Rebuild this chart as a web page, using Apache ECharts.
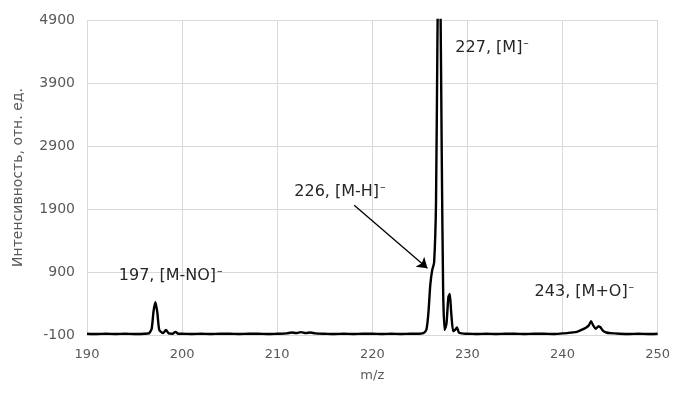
<!DOCTYPE html>
<html>
<head>
<meta charset="utf-8">
<script src="https://cdn.jsdelivr.net/npm/echarts@6/dist/echarts.min.js"></script>
<style>
  html, body { margin: 0; padding: 0; background: #fff; }
  #chart { width: 673px; height: 394px; }
</style>
</head>
<body>
<div id="chart"></div>
<script>
// m/z и интенсивность
const mz = [
  190, 191, 192, 193, 194, 195, 196, 196.5, 196.8, 197.0, 197.2, 197.4, 197.6, 198.0, 198.3, 198.6, 199.0, 199.3, 199.6,
  200, 201, 202, 203, 204, 205, 206, 207, 208, 209, 210, 211, 211.5, 212, 212.5, 213, 213.5, 214, 215, 216, 217, 218, 219,
  220, 221, 222, 223, 224, 225, 225.4, 225.7, 225.9, 226.1, 226.3, 226.5, 226.7, 226.85, 227.0, 227.15, 227.3, 227.45,
  227.6, 227.8, 228.0, 228.15, 228.3, 228.5, 228.7, 228.9, 229.1, 229.4, 229.8,
  230, 231, 232, 233, 234, 235, 236, 237, 238, 239, 240, 240.5, 241, 241.5, 242, 242.5, 242.8, 243.0, 243.2, 243.5,
  243.8, 244.0, 244.3, 244.6, 245, 246, 247, 248, 249, 250
];
const intensity = [
  -80, -85, -80, -85, -80, -85, -80, -75, 0, 280, 420, 250, -20, -70, -20, -75, -80, -50, -80,
  -80, -85, -80, -85, -80, -80, -85, -80, -80, -85, -80, -75, -60, -70, -55, -70, -60, -75, -80, -85, -80, -85, -80,
  -80, -85, -80, -85, -80, -80, -70, -10, 250, 700, 930, 1050, 2000, 4600, 6500, 5500, 2800, 600,
  -20, 80, 500, 550, 250, -40, -20, 20, -60, -75, -80,
  -80, -85, -80, -85, -80, -80, -85, -80, -80, -85, -75, -70, -60, -50, -20, 20, 60, 120, 60, 0,
  40, 20, -40, -60, -70, -80, -85, -80, -85, -80
];

// подписи пиков (знак заряда рисуется отдельным надстрочным фрагментом)
const peakLabels = ['197, [M-NO]', '226, [M-H]', '227, [M]', '243, [M+O]'];
const labelX = [198.8, 216.6, 232.6, 242.3];
const labelY = [836, 2170, 4455, 583];

// стрелка к плечу 226
const arrowFrom = [218.1, 1960];
const arrowTo = [225.8, 960];

const chart = echarts.init(document.getElementById('chart'));

const option = {
    animation: false,
    grid: {
        left: 87,
        right: 14,
        top: 20,
        bottom: 59
    },
    xAxis: {
        type: 'value',
        min: 190,
        max: 250,
        interval: 10,
        name: 'm/z',
        nameLocation: 'middle',
        nameGap: 34,
        nameTextStyle: { color: '#595959', fontSize: 13, fontFamily: 'DejaVu Sans' },
        axisLine: { show: true, onZero: false, lineStyle: { color: '#d9d9d9' } },
        axisTick: { show: false },
        axisLabel: { color: '#595959', fontSize: 13, fontFamily: 'DejaVu Sans', margin: 13 },
        splitLine: { show: true, lineStyle: { color: '#d9d9d9' } }
    },
    yAxis: {
        type: 'value',
        min: -100,
        max: 4900,
        interval: 1000,
        name: 'Интенсивность, отн. ед.',
        nameLocation: 'middle',
        nameGap: 62,
        nameTextStyle: { color: '#595959', fontSize: 14, fontFamily: 'DejaVu Sans' },
        axisLine: { show: false },
        axisTick: { show: false },
        axisLabel: {
            color: '#595959',
            fontSize: 14,
            fontFamily: 'DejaVu Sans',
            margin: 12,
            formatter: v => String(v)
        },
        splitLine: { show: true, lineStyle: { color: '#d9d9d9' } }
    },
    series: [
        {
            type: 'line',
            data: mz.map((m, i) => [m, intensity[i]]),
            showSymbol: false,
            smooth: 0.2,
            clip: true,
            lineStyle: { color: '#000', width: 2.4 },
            markPoint: {
                symbol: 'circle',
                symbolSize: 0,
                label: {
                    show: true,
                    position: 'inside',
                    color: '#262626',
                    fontSize: 16,
                    fontFamily: 'DejaVu Sans',
                    rich: {
                        sup: {
                            color: '#262626',
                            fontSize: 11,
                            fontFamily: 'DejaVu Sans',
                            padding: [0, 0, 9, 1]
                        }
                    }
                },
                data: peakLabels.map((t, i) => ({
                    coord: [labelX[i], labelY[i]],
                    value: t,
                    label: { formatter: t + '{sup|–}' }
                }))
            },
            markLine: {
                silent: true,
                symbol: ['none', 'arrow'],
                symbolSize: 10,
                label: { show: false },
                lineStyle: { color: '#000', width: 1.3, type: 'solid' },
                data: [[{ coord: arrowFrom }, { coord: arrowTo }]]
            }
        }
    ]
};

chart.setOption(option);
</script>
</body>
</html>
